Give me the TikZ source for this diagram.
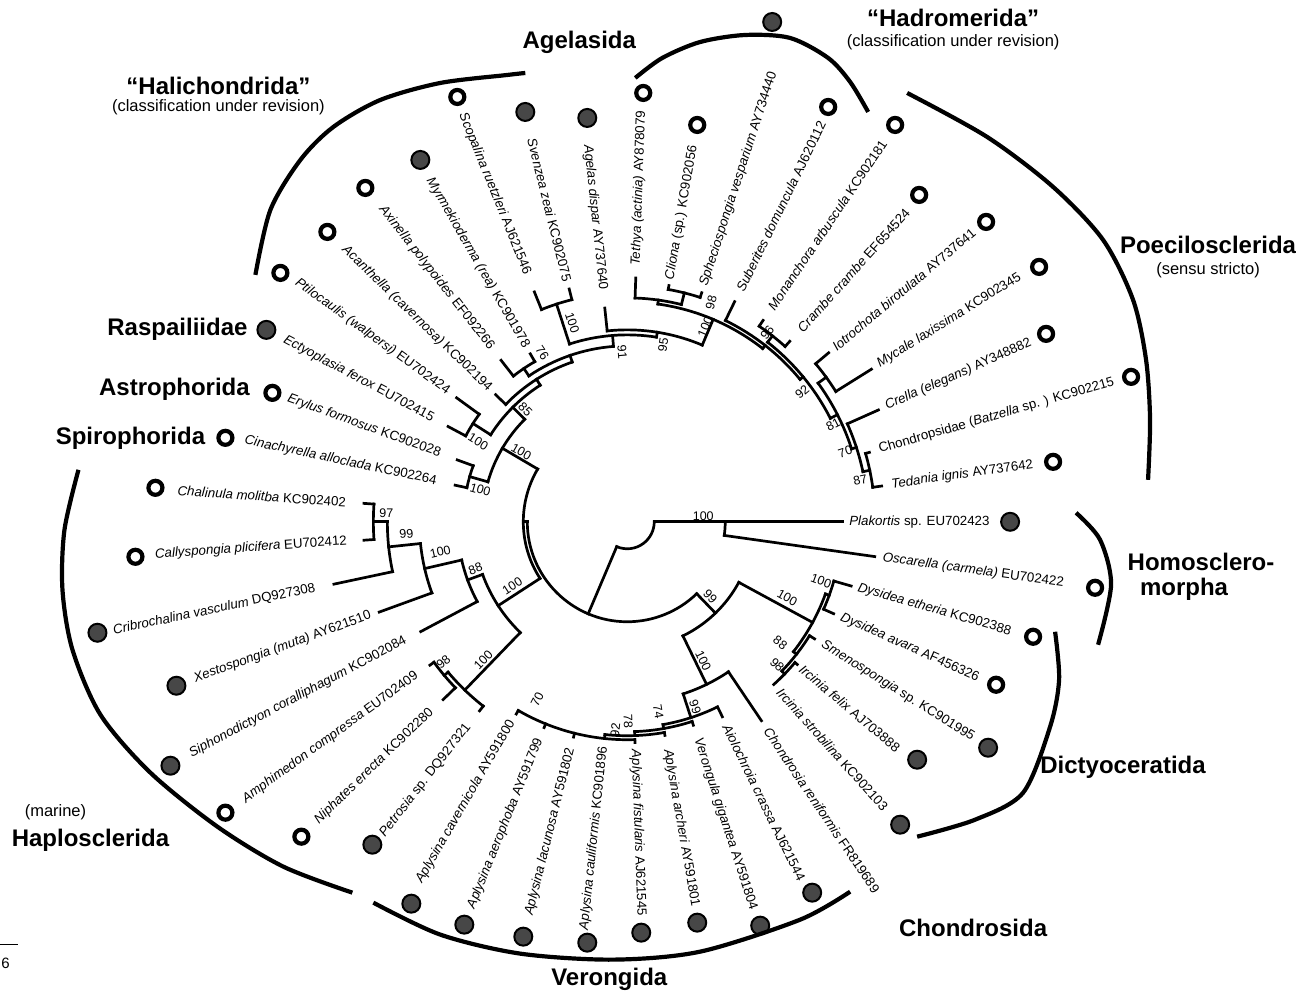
\documentclass[tikz,border=0pt]{standalone}
\usepackage{fontspec}
\setmainfont{Liberation Sans}
\newcommand{\rd}[3]{\draw[br] (#1:#2) -- (#1:#3);}
\newcommand{\ac}[3]{\draw[br] (#2:#1) arc[start angle=#2,end angle=#3,radius=#1];}
\newcommand{\tR}[4]{\node[tax, anchor=west, rotate=#2] (#1) at (#2:#3) {#4};}
\newcommand{\tL}[4]{\node[tax, anchor=east, rotate=#2-180] (#1) at (#2:#3) {#4};}
\begin{document}
\begin{tikzpicture}[x=1pt,y=1pt,
  br/.style={line width=2.7pt, line cap=rect},
  tax/.style={font=\fontsize{13.3}{13.3}\selectfont, inner sep=0pt},
  bs/.style={font=\fontsize{12.5}{12.5}\selectfont, inner sep=0pt},
  grp/.style={font=\fontsize{24}{24}\selectfont\bfseries, inner sep=0pt},
  sub/.style={font=\fontsize{16.5}{16.5}\selectfont, inner sep=0pt},
  odot/.style={circle, draw=black, line width=4.2pt, fill=white, minimum size=14pt, inner sep=0pt},
  fdot/.style={circle, draw=black, line width=2pt, fill=black!72, minimum size=18pt, inner sep=0pt},
  clade/.style={line width=4.2pt, line cap=butt},
  pix/.style={shift={(-627,522)}, yscale=-1}]
\begin{scope}[pix]
\useasboundingbox (0,0) rectangle (1311,995);
\end{scope}
% ---------------- tree (polar, centre at origin) ----------------
% root
\ac{27}{247}{360}
\rd{247}{27}{100}
% Homoscleromorpha
\rd{0}{27}{98}
\ac{98}{-8}{0}
\rd{0}{98}{215}
\rd{-8}{98}{250}
% Demospongiae
\ac{100}{180}{314}
\rd{180}{100}{104}
\ac{104}{149.5}{213}
% Keratosa + Myxospongiae
\rd{314}{100}{127}
\ac{127}{296}{331.5}
% Dictyoceratida
\rd{331.5}{127}{211}
\ac{211}{322}{340}
\rd{340}{211}{215}
\ac{215}{336}{344}
\rd{344}{215}{233}
\rd{336}{215}{226}
\rd{322}{211}{215}
\ac{215}{316}{328}
\rd{328}{215}{221}
\rd{316}{215}{219}
\ac{219}{312}{320}
\rd{320}{219}{222}
% Myxospongiae
\rd{296}{127}{181}
\ac{181}{288}{304}
\rd{304}{181}{240}
\rd{288}{181}{206}
\ac{206}{280}{296}
\rd{296}{206}{217}
\rd{280}{206}{210}
\ac{210}{272}{288}
\rd{288}{210}{214}
\rd{272}{210}{214}
\ac{214}{264}{280}
\rd{280}{214}{217}
\rd{264}{214}{218}
\ac{218}{240}{272}
\rd{272}{218}{221}
\rd{256}{218}{222}
\rd{248}{218}{222}
\rd{240}{218}{222}
% Haplosclerida
\rd{213}{104}{154}
\ac{154}{200}{226}
\rd{200}{154}{170}
\ac{170}{193}{208}
\rd{208}{170}{234}
\rd{193}{170}{208}
\ac{208}{186}{200}
\rd{200}{208}{264}
\rd{186}{208}{240}
\ac{240}{180}{192}
\rd{192}{240}{300}
\rd{180}{240}{254}
\ac{254}{176}{184}
\rd{176}{254}{264}
\rd{184}{254}{264}
\rd{226}{154}{234}
\ac{234}{220}{232}
\rd{232}{234}{240}
\rd{220}{234}{239}
\ac{239}{216}{224}
\rd{216}{239}{244}
\rd{224}{239}{256}
% upper clade
\rd{149.5}{104}{145}
\ac{145}{135}{164}
\rd{164}{145}{164}
\ac{164}{160}{168}
\rd{160}{164}{181}
\rd{168}{164}{176}
\rd{135}{145}{162}
\ac{162}{122.5}{147.5}
\rd{147.5}{162}{183}
\ac{183}{144}{152}
\rd{144}{183}{211}
\rd{152}{183}{203}
\rd{122.5}{162}{169}
\ac{169}{109}{136}
\rd{136}{169}{183}
\rd{109}{169}{176}
\ac{176}{94.5}{124}
\rd{124}{176}{185}
\ac{185}{120}{128}
\rd{128}{185}{205}
\rd{120}{185}{194}
\rd{94.5}{176}{187}
\ac{187}{81}{108}
\rd{108}{187}{229}
\ac{229}{104}{112}
\rd{104}{229}{240}
\rd{112}{229}{248}
\rd{81}{187}{192}
\ac{192}{67}{96}
\rd{96}{192}{215}
\rd{67}{192}{220}
\ac{220}{52}{82}
\rd{82}{220}{224}
\ac{224}{76}{88}
\rd{88}{224}{244}
\rd{76}{224}{236}
\ac{236}{72}{80}
\rd{80}{236}{240}
\rd{72}{236}{241}
\rd{52}{220}{224}
\ac{224}{39.5}{64}
\rd{64}{224}{245}
\rd{39.5}{224}{228}
\ac{228}{27}{52}
\rd{52}{228}{236}
\ac{236}{48}{56}
\rd{56}{236}{243}
\rd{48}{236}{243}
\rd{27}{228}{236}
\ac{236}{18}{36}
\rd{36}{236}{246}
\ac{246}{32}{40}
\rd{32}{246}{288}
\rd{40}{246}{263}
\rd{18}{236}{241}
\ac{241}{12}{24}
\rd{24}{241}{275}
\rd{12}{241}{248}
\ac{248}{8}{16}
\rd{16}{248}{252}
\rd{8}{248}{257}
% ---------------- taxon labels ----------------
\tR{t1}{0}{222}{\textit{Plakortis} sp. EU702423}
\tR{t2}{-8}{258}{\textit{Oscarella (carmela)} EU702422}
\tR{t3}{8}{267}{\textit{Tedania ignis} AY737642}
\tR{t4}{16}{262}{Chondropsidae (\textit{Batzella} sp. ) KC902215}
\tR{t5}{24}{283}{\textit{Crella (elegans)} AY348882}
\tR{t6}{32}{296}{\textit{Mycale laxissima} KC902345}
\tR{t7}{40}{270}{\textit{Iotrochota birotulata} AY737641}
\tR{t8}{48}{258}{\textit{Crambe crambe} EF654524}
\tR{t9}{56}{257}{\textit{Monanchora arbuscula} KC902181}
\tR{t10}{64}{257}{\textit{Suberites domuncula} AJ620112}
\tR{t11}{72}{248}{\textit{Spheciospongia vesparium} AY734440}
\tR{t12}{80}{246}{\textit{Cliona} (sp.) KC902056}
\tR{t13}{88}{256}{\textit{Tethya (actinia)} AY878079}
\tL{t14}{96}{233}{\textit{Agelas dispar} AY737640}
\tL{t15}{104}{248}{\textit{Svenzea zeai} KC902075}
\tL{t16}{112}{267}{\textit{Scopalina ruetzleri} AJ621546}
\tL{t17}{120}{202}{\textit{Myrmekioderma (rea)} KC901978}
\tL{t18}{128}{220}{\textit{Axinella polypoides} EF092266}
\tL{t19}{136}{191}{\textit{Acanthella (cavernosa)} KC902194}
\tL{t20}{144}{221}{\textit{Ptilocaulis (walpersi)} EU702424}
\tL{t21}{152}{220}{\textit{Ectyoplasia ferox} EU702415}
\tL{t22}{160}{199}{\textit{Erylus formosus} KC902028}
\tL{t23}{168}{195}{\textit{Cinachyrella alloclada} KC902264}
\tL{t24}{176}{282}{\textit{Chalinula molitba} KC902402}
\tL{t25}{184}{281}{\textit{Callyspongia plicifera} EU702412}
\tL{t26}{192}{319}{\textit{Cribrochalina vasculum} DQ927308}
\tL{t27}{200}{273}{\textit{Xestospongia (muta)} AY621510}
\tL{t28}{208}{251}{\textit{Siphonodictyon coralliphagum} KC902084}
\tL{t29}{216}{260}{\textit{Amphimedon compressa} EU702409}
\tL{t30}{224}{272}{\textit{Niphates erecta} KC902280}
\tL{t31}{232}{258}{\textit{Petrosia} sp. DQ927321}
\tL{t32}{240}{230}{\textit{Aplysina cavernicola} AY591800}
\tL{t33}{248}{234}{\textit{Aplysina aerophoba} AY591799}
\tL{t34}{256}{233}{\textit{Aplysina lacunosa} AY591802}
\tL{t35}{264}{226}{\textit{Aplysina cauliformis} KC901896}
\tR{t36}{272}{228}{\textit{Aplysina fistularis} AJ621545}
\tR{t37}{280}{231}{\textit{Aplysina archeri} AY591801}
\tR{t38}{288}{228}{\textit{Verongula gigantea} AY591804}
\tR{t39}{296}{226}{\textit{Aiolochroia crassa} AJ621544}
\tR{t40}{304}{250}{\textit{Chondrosia reniformis} FR819689}
\tR{t41}{312}{227}{\textit{Ircinia strobilina} KC902103}
\tR{t42}{320}{227}{\textit{Ircinia felix} AJ703888}
\tR{t43}{328}{230}{\textit{Smenospongia} sp. KC901995}
\tR{t44}{336}{234}{\textit{Dysidea avara} AF456326}
\tR{t45}{344}{240}{\textit{Dysidea etheria} KC902388}
% ---------------- items in pixel coordinates ----------------
\begin{scope}[pix]
% dots
\node[fdot] (d1) at (1010,522) {};
\node[odot] (d2) at (1095,588) {};
\node[odot] (d3) at (1053,462) {};
\node[odot] (d4) at (1131,377) {};
\node[odot] (d5) at (1046,334) {};
\node[odot] (d6) at (1039,267) {};
\node[odot] (d7) at (986,222) {};
\node[odot] (d8) at (919,195) {};
\node[odot] (d9) at (895,125) {};
\node[odot] (d10) at (828,107) {};
\node[fdot] (d11) at (772,22) {};
\node[odot] (d12) at (697,125) {};
\node[odot] (d13) at (643,93) {};
\node[fdot] (d14) at (587,118) {};
\node[fdot] (d15) at (525,112) {};
\node[odot] (d16) at (457,97) {};
\node[fdot] (d17) at (420,160) {};
\node[odot] (d18) at (365,188) {};
\node[odot] (d19) at (327,232) {};
\node[odot] (d20) at (280,273) {};
\node[fdot] (d21) at (266,330) {};
\node[odot] (d22) at (272,393) {};
\node[odot] (d23) at (225,438) {};
\node[odot] (d24) at (155,488) {};
\node[odot] (d25) at (135,557) {};
\node[fdot] (d26) at (97,633) {};
\node[fdot] (d27) at (176,686) {};
\node[fdot] (d28) at (170,766) {};
\node[odot] (d29) at (225,813) {};
\node[odot] (d30) at (301,837) {};
\node[fdot] (d31) at (372,845) {};
\node[fdot] (d32) at (411,904) {};
\node[fdot] (d33) at (464,925) {};
\node[fdot] (d34) at (523,937) {};
\node[fdot] (d35) at (587,943) {};
\node[fdot] (d36) at (641,933) {};
\node[fdot] (d37) at (697,923) {};
\node[fdot] (d38) at (760,926) {};
\node[fdot] (d39) at (812,893) {};
\node[fdot] (d41) at (900,825) {};
\node[fdot] (d42) at (917,760) {};
\node[fdot] (d43) at (988,748) {};
\node[odot] (d44) at (996,685) {};
\node[odot] (d45) at (1033,637) {};
% bootstrap values
\node[bs] (b1) at (703,516) {100};
\node[bs, rotate=-46] (b2) at (710,597) {99};
\node[bs, rotate=-29] (b3) at (787,598) {100};
\node[bs, rotate=-64] (b4) at (703,661) {100};
\node[bs, rotate=-72] (b5) at (695,707) {99};
\node[bs, rotate=-80] (b6) at (658,712) {74};
\node[bs, rotate=-88] (b7) at (628,722) {78};
\node[bs, rotate=84] (b8) at (615,730) {92};
\node[bs, rotate=63] (b9) at (537,700) {70};
\node[bs, rotate=33] (b10) at (512,586) {100};
\node[bs, rotate=20] (b11) at (475,569) {88};
\node[bs, rotate=13] (b12) at (440,552) {100};
\node[bs, rotate=6] (b13) at (406,534) {99};
\node[bs] (b14) at (386,513) {97};
\node[bs, rotate=46] (b15) at (483,660) {100};
\node[bs, rotate=40] (b16) at (443,662) {98};
\node[bs, rotate=-16] (b17) at (480,490) {100};
\node[bs, rotate=-30] (b18) at (521,452) {100};
\node[bs, rotate=-32] (b19) at (478,442) {100};
\node[bs, rotate=-45] (b20) at (525,410) {85};
\node[bs, rotate=-56] (b21) at (542,353) {76};
\node[bs, rotate=-72] (b22) at (572,323) {100};
\node[bs, rotate=-85] (b23) at (622,352) {91};
\node[bs, rotate=81] (b24) at (663,345) {95};
\node[bs, rotate=67] (b25) at (705,327) {100};
\node[bs, rotate=76] (b26) at (711,303) {98};
\node[bs, rotate=52] (b27) at (767,333) {96};
\node[bs, rotate=40] (b28) at (802,392) {92};
\node[bs, rotate=27] (b29) at (833,425) {81};
\node[bs, rotate=18] (b30) at (845,452) {70};
\node[bs, rotate=12] (b31) at (860,480) {87};
\node[bs, rotate=-20] (b32) at (821,581) {100};
\node[bs, rotate=-38] (b33) at (780,643) {88};
\node[bs, rotate=-44] (b34) at (777,665) {98};
% clade bars
\draw[clade] plot[smooth] coordinates {(255,275) (270,210) (300,160) (333,127) (380,100) (440,83) (507,75) (525,73)};
\draw[clade] plot[smooth] coordinates {(635,78) (662,58) (700,42) (745,35) (790,38) (828,58) (850,82) (868,112)};
\draw[clade] plot[smooth] coordinates {(907,93) (987,137) (1053,187) (1103,240) (1133,300) (1146,360) (1150,420) (1148,480)};
\draw[clade] plot[smooth] coordinates {(1076,513) (1100,540) (1111,585) (1098,645)};
\draw[clade] plot[smooth] coordinates {(1055,632) (1059,680) (1050,727) (1023,793) (975,820) (917,837)};
\draw[clade] plot[smooth] coordinates {(373,903) (440,935) (520,954) (613,960) (700,952) (800,920) (850,892)};
\draw[clade] plot[smooth] coordinates {(78,470) (64,530) (62,590) (72,650) (100,715) (150,773) (217,827) (283,867) (352,893)};
% group labels
\node[grp] (gAge) at (579,42) {Agelasida};
\node[grp] (gHad) at (953,18) {“Hadromerida”};
\node[sub] (gHad2) at (953,42) {(classification under revision)};
\node[grp] (gHal) at (218,86) {“Halichondrida”};
\node[sub] (gHal2) at (218,107) {(classification under revision)};
\node[grp] (gPoe) at (1208,245) {Poecilosclerida};
\node[sub] (gPoe2) at (1208,270) {(sensu stricto)};
\node[grp] (gRas) at (177,329) {Raspailiidae};
\node[grp] (gAst) at (174,389) {Astrophorida};
\node[grp] (gSpi) at (130,438) {Spirophorida};
\node[grp] (gHom) at (1201,562) {Homosclero-};
\node[grp] (gHom2) at (1184,590) {morpha};
\node[grp] (gDic) at (1123,768) {Dictyoceratida};
\node[grp] (gCho) at (973,928) {Chondrosida};
\node[grp] (gVer) at (609,980) {Verongida};
\node[sub] (gHap2) at (55,813) {(marine)};
\node[grp] (gHap) at (90,841) {Haplosclerida};
% scale bar
\coordinate (s0) at (0,945);
\coordinate (s1) at (18,945);
\draw[line width=1pt] (s0) -- (s1);
\node[font=\fontsize{15}{15}\selectfont, inner sep=0pt] (sc) at (5,964) {6};
\end{scope}
\end{tikzpicture}
\end{document}
